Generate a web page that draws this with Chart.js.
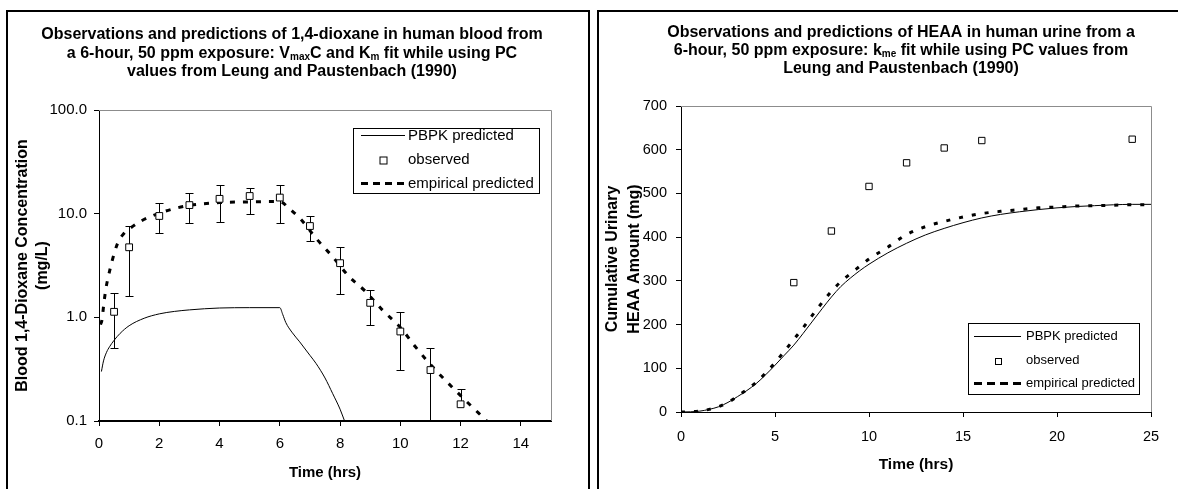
<!DOCTYPE html>
<html><head><meta charset="utf-8">
<script src="https://cdn.jsdelivr.net/npm/chart.js@4/dist/chart.umd.min.js"></script>
<style>
html,body{margin:0;padding:0;background:#fff;width:1178px;height:489px;overflow:hidden;}
.panel{position:absolute;border:2px solid #000;border-bottom:none;box-sizing:border-box;pointer-events:none;}
canvas{position:absolute;top:0;}
</style></head><body>
<canvas id="c1" width="590" height="489" style="left:0px"></canvas>
<canvas id="c2" width="588" height="489" style="left:590px"></canvas>
<div class="panel" style="left:6px;top:10px;width:584px;height:500px"></div>
<div class="panel" style="left:597px;top:10px;width:700px;height:500px"></div>
<script>
// ---------- Left chart: 1,4-dioxane in human blood ----------
const bloodTitle = [
  [['Observations and predictions of 1,4-dioxane in human blood from', false]],
  [['a 6-hour, 50 ppm exposure: V', false], ['max', true], ['C and K', false], ['m', true], [' fit while using PC', false]],
  [['values from Leung and Paustenbach (1990)', false]]
];
const bloodYTitle = ['Blood 1,4-Dioxane Concentration', '(mg/L)'];
const bloodXTitle = 'Time (hrs)';
const bloodXTicks = [0, 2, 4, 6, 8, 10, 12, 14];
const bloodYTicks = [0.1, 1, 10, 100];
const bloodYTickLabels = ['0.1', '1.0', '10.0', '100.0'];

const bloodObsTime = [0.5, 1, 2, 3, 4, 5, 6, 7, 8, 9, 10, 11, 12];
const bloodObsMean = [1.13, 4.74, 9.5, 12.1, 13.9, 14.8, 14.3, 7.6, 3.33, 1.38, 0.73, 0.31, 0.145];
const bloodObsLow  = [0.51, 1.62, 6.5, 8.1, 8.3, 9.9, 8.1, 5.4, 1.67, 0.85, 0.31, 0.10, null];
const bloodObsHigh = [1.71, 7.6, 12.8, 16.0, 18.9, 17.8, 18.9, 9.5, 4.74, 1.85, 1.13, 0.51, 0.205];

const bloodPbpkTime = [0.08, 0.15, 0.25, 0.35, 0.5, 0.7, 1, 1.5, 2, 2.5, 3, 3.5, 4, 5, 6, 6.1, 6.2, 6.4, 6.66, 7, 7.2, 7.5, 7.75, 8, 8.15, 8.3];
const bloodPbpkConc = [0.30, 0.38, 0.46, 0.52, 0.6, 0.7, 0.83, 0.98, 1.08, 1.14, 1.18, 1.21, 1.23, 1.24, 1.24, 1.06, 0.89, 0.72, 0.58, 0.43, 0.36, 0.26, 0.185, 0.13, 0.10, 0.078];

const bloodEmpTime = [0.05, 0.1, 0.16, 0.23, 0.32, 0.44, 0.62, 0.84, 1, 1.4, 2, 2.5, 3, 4, 5, 6, 6.3, 6.7, 7.2, 7.75, 8.3, 8.85, 9.4, 10, 10.5, 11, 11.6, 12.2, 12.6, 13];
const bloodEmpConc = [0.85, 0.95, 1.35, 1.9, 2.55, 3.55, 5.2, 6.5, 7.1, 8.5, 10.1, 11.2, 12.0, 12.8, 13.0, 13.1, 11.3, 8.8, 5.8, 3.85, 2.47, 1.77, 1.18, 0.8, 0.52, 0.35, 0.23, 0.154, 0.119, 0.092];

// ---------- Right chart: HEAA in human urine ----------
const urineTitle = [
  [['Observations and predictions of HEAA in human urine from a', false]],
  [['6-hour, 50 ppm exposure: k', false], ['me', true], [' fit while using PC values from', false]],
  [['Leung and Paustenbach (1990)', false]]
];
const urineYTitle = ['Cumulative Urinary', 'HEAA Amount (mg)'];
const urineXTitle = 'Time (hrs)';
const urineXTicks = [0, 5, 10, 15, 20, 25];
const urineYTicks = [0, 100, 200, 300, 400, 500, 600, 700];

const urineObsTime = [6, 8, 10, 12, 14, 16, 24];
const urineObsAmt  = [296, 414, 516, 570, 604, 621, 624];

const urinePbpkTime = [0, 0.5, 1, 1.5, 2, 2.5, 3, 3.5, 4, 4.5, 5, 5.5, 6, 6.5, 7, 7.5, 8, 8.5, 9, 9.5, 10, 11, 12, 13, 14, 15, 16, 17, 18, 19, 20, 21, 22, 23, 24, 25];
const urinePbpkAmt  = [0, 0.5, 2, 6, 12, 22, 35, 49, 65, 85, 107, 130, 153, 180, 208, 236, 263, 287, 306, 323, 338, 364, 386, 405, 420, 433, 444, 452, 458, 463, 467, 470, 472, 474, 475, 475];

const urineEmpTime = [0, 0.5, 1, 1.5, 2, 2.5, 3, 3.5, 4, 4.5, 5, 5.5, 6, 6.5, 7, 7.5, 8, 8.5, 9, 9.5, 10, 11, 12, 13, 14, 15, 16, 17, 18, 19, 20, 21, 22, 23, 24, 25];
const urineEmpAmt  = [0, 0.5, 2, 6, 12, 22, 36, 51, 68, 89, 113, 139, 166, 193, 222, 250, 276, 298, 316, 333, 350, 377, 406, 424, 436, 446, 454, 459, 463, 467, 469, 471, 472, 473, 474, 474];

const seriesLabels = ['PBPK predicted', 'observed', 'empirical predicted'];

// ---------- helpers ----------
const FAM = "'Liberation Sans', Arial, Helvetica, sans-serif";
const pts = (xs, ys) => xs.map((x, i) => ({x: x, y: ys[i]}));

const segTitle = {
  id: 'segTitle',
  afterDraw(chart, args, o) {
    if (!o.lines) return;
    const ctx = chart.ctx;
    ctx.save();
    ctx.fillStyle = '#000';
    ctx.textBaseline = 'middle';
    ctx.textAlign = 'left';
    o.lines.forEach((segs, i) => {
      let w = 0;
      segs.forEach(s => { ctx.font = s[1] ? o.subFont : o.font; w += ctx.measureText(s[0]).width; });
      let x = o.x - w / 2;
      const y = o.y + i * o.lineHeight;
      segs.forEach(s => {
        ctx.font = s[1] ? o.subFont : o.font;
        ctx.fillText(s[0], x, s[1] ? y + o.subShift : y);
        x += ctx.measureText(s[0]).width;
      });
    });
    ctx.restore();
  }
};

const plotFrame = {
  id: 'plotFrame',
  beforeDatasetsDraw(chart) {
    const {ctx, chartArea: a} = chart;
    ctx.save();
    ctx.strokeStyle = '#8c8c8c';
    ctx.lineWidth = 1;
    ctx.beginPath();
    ctx.moveTo(a.left, Math.round(a.top) + 0.5);
    ctx.lineTo(Math.round(a.right) + 0.5, Math.round(a.top) + 0.5);
    ctx.lineTo(Math.round(a.right) + 0.5, a.bottom);
    ctx.stroke();
    ctx.restore();
  }
};

const errorBars = {
  id: 'errorBars',
  beforeDatasetsDraw(chart, args, o) {
    if (!o.x) return;
    const {ctx, chartArea: a} = chart;
    const xs = chart.scales.x, ys = chart.scales.y;
    ctx.save();
    ctx.beginPath();
    ctx.rect(a.left, a.top - 2, a.right - a.left, a.bottom - a.top + 3);
    ctx.clip();
    ctx.strokeStyle = '#000';
    ctx.lineWidth = 1;
    o.x.forEach((t, i) => {
      const px = Math.round(xs.getPixelForValue(t)) + 0.5;
      const hi = Math.round(ys.getPixelForValue(o.high[i])) + 0.5;
      const hasLow = o.low[i] !== null;
      const lo = Math.round(ys.getPixelForValue(hasLow ? o.low[i] : o.mean[i])) + 0.5;
      ctx.beginPath();
      ctx.moveTo(px, hi); ctx.lineTo(px, lo);
      ctx.moveTo(px - o.cap, hi); ctx.lineTo(px + o.cap, hi);
      if (hasLow) { ctx.moveTo(px - o.cap, lo); ctx.lineTo(px + o.cap, lo); }
      ctx.stroke();
    });
    ctx.restore();
  }
};

const boxLegend = {
  id: 'boxLegend',
  afterDatasetsDraw(chart, args, o) {
    if (!o.width) return;
    const {ctx, chartArea: a} = chart;
    const left = Math.round(a.right - o.right - o.width);
    const top = Math.round(o.top !== undefined ? a.top + o.top : a.bottom - o.bottom - o.height);
    ctx.save();
    ctx.fillStyle = '#fff';
    ctx.fillRect(left, top, o.width, o.height);
    ctx.strokeStyle = '#000';
    ctx.lineWidth = 1;
    ctx.strokeRect(left + 0.5, top + 0.5, o.width, o.height);
    chart.data.datasets.forEach((ds, i) => {
      const y = Math.round(top + o.firstY + i * o.spacing) + 0.5;
      const x0 = left + o.sampleX0, x1 = left + o.sampleX1;
      ctx.strokeStyle = '#000';
      if (ds.showLine === false) {
        ctx.fillStyle = ds.backgroundColor;
        ctx.strokeStyle = ds.borderColor;
        ctx.lineWidth = ds.borderWidth;
        const s = Math.round(Math.SQRT2 * ds.pointRadius);
        const cx = Math.round((x0 + x1) / 2), cy = Math.round(y);
        ctx.fillRect(cx - s / 2, cy - s / 2, s, s);
        ctx.strokeRect(cx - s / 2 + 0.5, cy - s / 2 + 0.5, s, s);
      } else {
        ctx.lineWidth = ds.borderWidth;
        ctx.setLineDash(ds.borderDash && ds.borderDash.length ? o.dash : []);
        ctx.beginPath();
        ctx.moveTo(x0, y); ctx.lineTo(x1, y);
        ctx.stroke();
        ctx.setLineDash([]);
      }
      ctx.fillStyle = '#000';
      ctx.font = o.font;
      ctx.textAlign = 'left';
      ctx.textBaseline = 'middle';
      ctx.fillText(ds.label, left + o.textX, y);
    });
    ctx.restore();
  }
};

function makeChart(id, cfg) {
  const lineDs = (label, data, dash, width) => ({
    label: label, data: data, showLine: true, borderColor: '#000', backgroundColor: '#000',
    borderWidth: width, borderDash: dash, pointRadius: 0, pointHoverRadius: 0,
    cubicInterpolationMode: 'monotone', fill: false, order: 1
  });
  return new Chart(document.getElementById(id), {
    type: 'scatter',
    data: {
      datasets: [
        lineDs(seriesLabels[0], cfg.pbpk, [], 1),
        {label: seriesLabels[1], data: cfg.obs, showLine: false, pointStyle: 'rect',
         pointRadius: cfg.markerR, pointHoverRadius: cfg.markerR, borderWidth: 1, borderColor: '#000', backgroundColor: '#fff', order: -1},
        lineDs(seriesLabels[2], cfg.emp, cfg.empDash, 3)
      ]
    },
    options: {
      responsive: false, animation: false, devicePixelRatio: 1,
      layout: {padding: cfg.padding},
      events: [],
      plugins: {
        legend: {display: false}, tooltip: {enabled: false}, title: {display: false},
        segTitle: cfg.title,
        errorBars: cfg.err || {},
        boxLegend: cfg.legend
      },
      scales: {
        x: {
          type: 'linear', position: 'bottom', min: cfg.xMin, max: cfg.xMax,
          afterBuildTicks: s => { s.ticks = cfg.xTicks.map(v => ({value: v})); },
          afterFit: s => { s.height = cfg.xAxisH; },
          grid: {drawOnChartArea: false, drawTicks: true, tickLength: 5, tickColor: '#000', tickWidth: 1},
          border: {display: true, color: '#000', width: cfg.xBorder},
          ticks: {color: '#000', font: {family: FAM, size: cfg.tickSize}, padding: cfg.xTickPad, maxRotation: 0, autoSkip: false},
          title: {display: true, text: cfg.xTitle, color: '#000', font: {family: FAM, size: cfg.xTitleSize, weight: 'bold', lineHeight: 1.2}, padding: {top: 0, bottom: cfg.xTitlePad}}
        },
        y: {
          type: cfg.yType, position: 'left', min: cfg.yMin, max: cfg.yMax,
          afterBuildTicks: s => { s.ticks = cfg.yTicks.map(v => ({value: v})); },
          afterFit: s => { s.width = cfg.yAxisW; },
          grid: {drawOnChartArea: false, drawTicks: true, tickLength: 5, tickColor: '#000', tickWidth: 1},
          border: {display: true, color: '#000', width: 1},
          ticks: {color: '#000', font: {family: FAM, size: cfg.tickSize}, padding: cfg.yTickPad, autoSkip: false,
                  callback: cfg.yLabel},
          title: {display: true, text: cfg.yTitle, color: '#000', font: {family: FAM, size: 16, weight: 'bold', lineHeight: cfg.yTitleLH}, padding: {top: cfg.yTitlePad, bottom: 0}}
        }
      }
    },
    plugins: [plotFrame, errorBars, boxLegend, segTitle]
  });
}

makeChart('c1', {
  pbpk: pts(bloodPbpkTime, bloodPbpkConc),
  obs: pts(bloodObsTime, bloodObsMean),
  emp: pts(bloodEmpTime, bloodEmpConc),
  empDash: [5, 8],
  markerR: 4.8,
  padding: {top: 110, left: 0, right: 39, bottom: 0},
  title: {lines: bloodTitle, x: 292, y: 35, lineHeight: 18.3, font: "bold 16px " + FAM, subFont: "bold 10px " + FAM, subShift: 4},
  err: {x: bloodObsTime, mean: bloodObsMean, low: bloodObsLow, high: bloodObsHigh, cap: 4},
  legend: {width: 186, height: 65, right: 12, top: 18, firstY: 7, spacing: 24, sampleX0: 8, sampleX1: 52, textX: 55, font: "15px " + FAM, dash: [7, 5]},
  xMin: 0, xMax: 15, xTicks: bloodXTicks, xAxisH: 68, xBorder: 2, tickSize: 15, xTickPad: 9,
  xTitle: bloodXTitle, xTitleSize: 15, xTitlePad: 7,
  yType: 'logarithmic', yMin: 0.1, yMax: 100, yTicks: bloodYTicks, yAxisW: 99, yTickPad: 7,
  yLabel: (v, i) => bloodYTickLabels[i],
  yTitle: bloodYTitle, yTitleLH: 1.25, yTitlePad: 13
});

makeChart('c2', {
  pbpk: pts(urinePbpkTime, urinePbpkAmt),
  obs: pts(urineObsTime, urineObsAmt),
  emp: pts(urineEmpTime, urineEmpAmt),
  empDash: [4, 9],
  markerR: 4.5,
  padding: {top: 106, left: 0, right: 27, bottom: 0},
  title: {lines: urineTitle, x: 311, y: 32.3, lineHeight: 18.3, font: "bold 16px " + FAM, subFont: "bold 10px " + FAM, subShift: 4},
  legend: {width: 171, height: 71, right: 12, bottom: 18, firstY: 13, spacing: 23.5, sampleX0: 6, sampleX1: 53, textX: 58, font: "13px " + FAM, dash: [8, 5]},
  xMin: 0, xMax: 25, xTicks: urineXTicks, xAxisH: 77, xBorder: 1, tickSize: 14.5, xTickPad: 11,
  xTitle: urineXTitle, xTitleSize: 15.5, xTitlePad: 15,
  yType: 'linear', yMin: 0, yMax: 700, yTicks: urineYTicks, yAxisW: 91, yTickPad: 9,
  yLabel: (v) => String(v),
  yTitle: urineYTitle, yTitleLH: 1.375, yTitlePad: 12
});
</script>
</body></html>
